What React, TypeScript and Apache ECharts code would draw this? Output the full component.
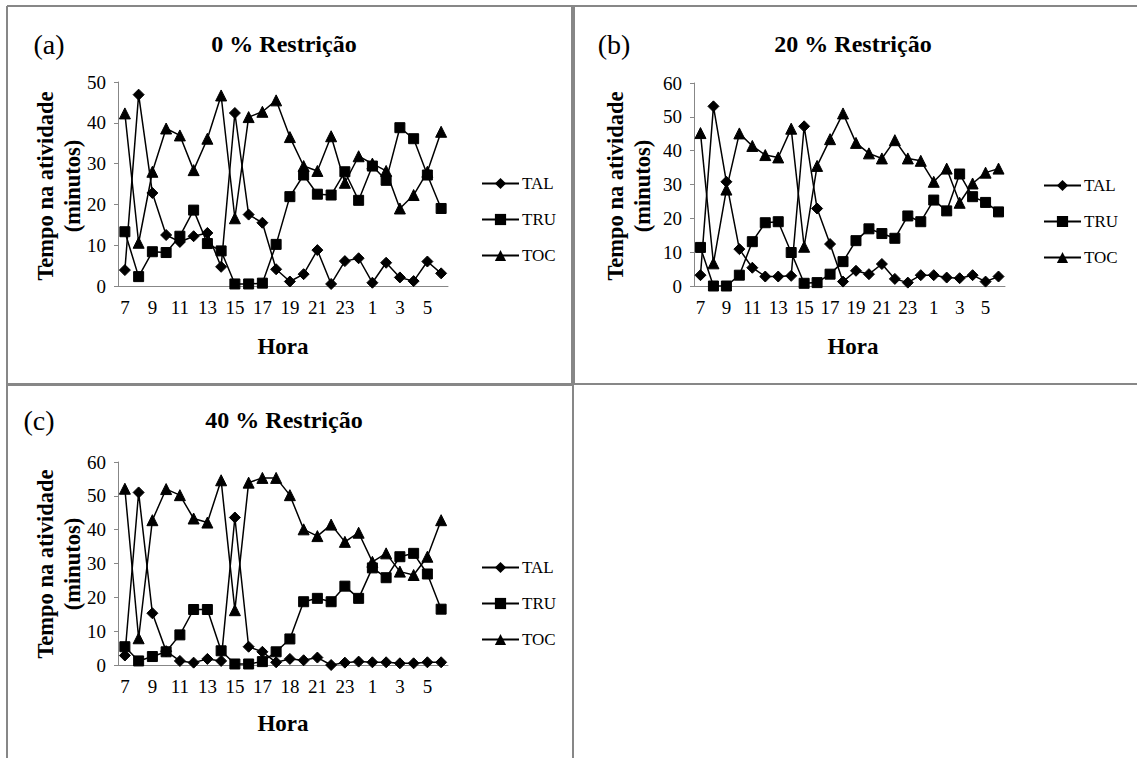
import React, { useEffect, useRef } from "react";
import * as echarts from "echarts";

const hours = ["7","8","9","10","11","12","13","14","15","16","17","18","19","20","21","22","23","0","1","2","3","4","5","6"];
const tickLabelsAB = ["7","9","11","13","15","17","19","21","23","1","3","5"];
const tickLabelsC = ["7","9","11","13","15","17","18","21","23","1","3","5"];

const talA = [3.9,46.9,22.8,12.5,10.8,12.2,13.0,4.7,42.4,17.5,15.5,4.1,1.1,2.9,8.8,0.5,6.1,6.8,0.8,5.7,2.1,1.2,6.0,3.1];
const truA = [13.3,2.3,8.4,8.2,12.2,18.6,10.4,8.6,0.5,0.5,0.7,10.2,21.9,27.2,22.5,22.3,28.0,21.0,29.4,25.9,38.8,36.1,27.2,19.0];
const tocA = [42.3,10.6,28.0,38.6,36.9,28.4,36.1,46.7,16.6,41.4,42.7,45.5,36.5,29.4,28.2,36.7,25.3,31.8,30.0,28.2,19.0,22.3,28.0,37.8];

const talB = [3.2,53.1,30.8,10.9,5.4,2.8,2.8,3.0,47.2,22.9,12.4,1.3,4.5,3.5,6.5,2.1,1.0,3.2,3.2,2.5,2.3,3.2,1.3,2.8];
const truB = [11.4,0,0,3.2,13.1,18.7,19.0,9.9,0.8,1.0,3.5,7.2,13.4,16.9,15.5,14.1,20.7,19.0,25.4,22.2,33.1,26.4,24.7,21.9];
const tocB = [45.2,6.7,28.5,45.1,41.4,38.7,38.0,46.5,11.6,35.5,43.4,51.0,42.3,39.2,37.7,43.1,37.7,37.0,30.8,34.7,24.6,30.3,33.5,34.7];

const talC = [2.8,51.0,15.3,4.1,1.2,0.7,1.8,1.2,43.6,5.4,3.9,0.8,1.8,1.4,2.2,0.0,0.7,1.0,0.8,0.8,0.5,0.5,0.8,0.8];
const truC = [5.4,1.2,2.5,3.9,8.9,16.4,16.4,4.2,0.3,0.3,1.0,3.9,7.7,18.7,19.7,18.7,23.3,19.7,28.7,25.8,32.0,33.0,26.9,16.5];
const tocC = [52.1,7.9,42.8,52.0,50.2,43.3,42.1,54.6,16.2,53.9,55.3,55.3,50.2,40.1,38.1,41.5,36.4,39.1,30.5,33.0,27.6,26.6,32.0,42.8];

const seriesNames = ["TAL", "TRU", "TOC"];
const FONT = "'Liberation Serif', 'Times New Roman', 'DejaVu Serif', serif";
const GRAY = "#878787";

export default function App() {
  const ref = useRef<HTMLDivElement>(null);
  useEffect(() => {
    if (!ref.current) return;
    const chart = echarts.init(ref.current, undefined, { renderer: "svg" });

    const panels = [
      { grid: { left: 118, top: 82, width: 330, height: 204 }, max: 50, labels: tickLabelsAB, data: [talA, truA, tocA] },
      { grid: { left: 694, top: 83, width: 311, height: 203 }, max: 60, labels: tickLabelsAB, data: [talB, truB, tocB] },
      { grid: { left: 118, top: 462, width: 330, height: 203 }, max: 60, labels: tickLabelsC, data: [talC, truC, tocC] },
    ];
    const symbols = ["diamond", "rect", "triangle"];
    const sizes = [11, 10, 11];

    const grids = panels.map((p) => ({ ...p.grid, containLabel: false }));
    const xAxes = panels.map((p, i) => ({
      type: "category",
      gridIndex: i,
      data: hours,
      boundaryGap: true,
      axisLine: { show: true, lineStyle: { color: GRAY, width: 1 } },
      axisTick: { show: false },
      axisLabel: {
        interval: 0,
        margin: 12,
        color: "#000",
        fontFamily: FONT,
        fontSize: 19,
        formatter: (_v: string, idx: number) => (idx % 2 === 0 ? p.labels[idx / 2] : ""),
      },
      splitLine: { show: false },
    }));
    const yAxes = panels.map((p, i) => ({
      type: "value",
      gridIndex: i,
      min: 0,
      max: p.max,
      interval: 10,
      axisLine: { show: true, lineStyle: { color: GRAY, width: 1 } },
      axisTick: { show: true, length: 4, lineStyle: { color: GRAY } },
      axisLabel: { color: "#000", fontFamily: FONT, fontSize: 19, margin: 12 },
      splitLine: { show: false },
    }));
    const series: any[] = [];
    panels.forEach((p, i) => {
      p.data.forEach((d, k) => {
        series.push({
          type: "line",
          name: seriesNames[k],
          xAxisIndex: i,
          yAxisIndex: i,
          data: d,
          symbol: symbols[k],
          symbolSize: sizes[k],
          showAllSymbol: true,
          lineStyle: { color: "#000", width: 1.5 },
          itemStyle: { color: "#000", borderColor: "#000" },
          emphasis: { disabled: true },
        });
      });
    });
    const legendPos = [
      { left: 476, top: 170 },
      { left: 1038, top: 172 },
      { left: 476, top: 554 },
    ];
    const legends = legendPos.map((lp) => ({
      ...lp,
      orient: "vertical",
      data: seriesNames,
      itemWidth: 37,
      itemHeight: 14,
      itemGap: 19,
      selectedMode: false,
      textStyle: { color: "#000", fontFamily: FONT, fontSize: 17, padding: [0, 0, 0, -2] },
    }));

    const txt = (x: number, y: number, text: string, size: number, bold: boolean, extra: any = {}) => ({
      type: "text",
      x,
      y,
      ...extra,
      style: {
        text,
        fill: "#000",
        fontFamily: FONT,
        fontSize: size,
        fontWeight: bold ? "bold" : "normal",
        textAlign: "center",
        textVerticalAlign: "middle",
      },
    });
    const ln = (x1: number, y1: number, x2: number, y2: number, w: number) => ({
      type: "line",
      shape: { x1, y1, x2, y2 },
      style: { stroke: GRAY, lineWidth: w },
    });

    const graphic = [
      ln(7, 6, 1137, 6, 2),
      ln(7, 6, 7, 758, 2),
      ln(573, 6, 573, 385, 4),
      ln(573, 385, 573, 758, 2),
      ln(7, 384.5, 573, 384.5, 3),
      ln(573, 384, 1137, 384, 2),
      txt(49, 44, "(a)", 28, false),
      txt(284, 44, "0 % Restrição", 24, true),
      txt(614, 44, "(b)", 28, false),
      txt(853, 44, "20 % Restrição", 24, true),
      txt(39, 420, "(c)", 28, false),
      txt(284, 420, "40 % Restrição", 24, true),
      txt(283, 346, "Hora", 23, true),
      txt(853, 346, "Hora", 23, true),
      txt(283, 723, "Hora", 23, true),
      txt(45, 186, "Tempo na atividade", 22.5, true, { rotation: Math.PI / 2 }),
      txt(72, 186, "(minutos)", 22.5, true, { rotation: Math.PI / 2 }),
      txt(615, 186, "Tempo na atividade", 22.5, true, { rotation: Math.PI / 2 }),
      txt(642, 186, "(minutos)", 22.5, true, { rotation: Math.PI / 2 }),
      txt(45, 564, "Tempo na atividade", 22.5, true, { rotation: Math.PI / 2 }),
      txt(72, 564, "(minutos)", 22.5, true, { rotation: Math.PI / 2 }),
    ];

    chart.setOption({
      animation: false,
      backgroundColor: "#fff",
      textStyle: { fontFamily: FONT },
      grid: grids,
      xAxis: xAxes,
      yAxis: yAxes,
      legend: legends,
      series,
      graphic,
    });
    return () => chart.dispose();
  }, []);
  return (
    <div
      ref={ref}
      style={{ position: "absolute", left: 0, top: 0, width: 1137, height: 758 }}
    />
  );
}
